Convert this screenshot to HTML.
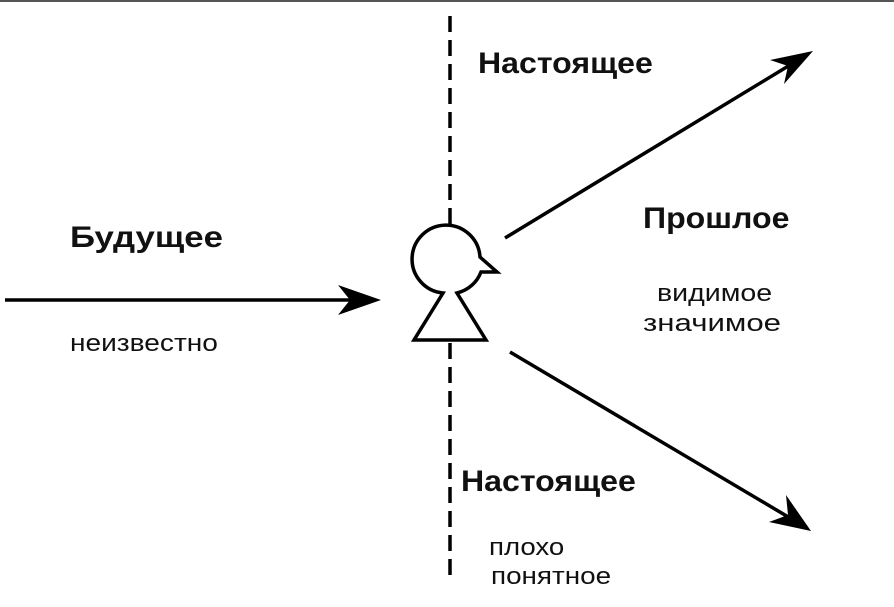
<!DOCTYPE html>
<html><head><meta charset="utf-8"><style>
body{margin:0;background:#fff;width:894px;height:607px;overflow:hidden;position:relative;font-family:"Liberation Sans",sans-serif}
.t{position:absolute;white-space:nowrap;color:#111;transform-origin:0 0}
.b{font-weight:bold;font-size:30px}
.n{font-size:24px}
</style></head><body>
<div style="position:absolute;left:0;top:0;width:894px;height:2px;background:#555"></div>
<svg width="894" height="607" style="position:absolute;left:0;top:0">
<line x1="450" y1="16" x2="450" y2="228" stroke="#000" stroke-width="3.5" stroke-dasharray="16,8"/>
<line x1="450" y1="343" x2="450" y2="580" stroke="#000" stroke-width="3.5" stroke-dasharray="16,8"/>
<g fill="#000">
<line x1="5" y1="300" x2="350" y2="300" stroke="#000" stroke-width="3.5"/>
<path d="M381,300 L338,285 L350,300 L338,315 z"/>
<line x1="505" y1="238" x2="790" y2="65" stroke="#000" stroke-width="3.5"/>
<path d="M813,51 L770,60 L788,66 L784,84 z"/>
<line x1="510" y1="352" x2="790" y2="518" stroke="#000" stroke-width="3.5"/>
<path d="M811,531 L786,495 L788,515 L769,522 z"/>
</g>
<path d="M443,293 A34,34 0 1 1 480,257 L497,272 L481,272 A34,34 0 0 1 457,293 L486,340 L414,340 Z" fill="none" stroke="#000" stroke-width="3.5" stroke-linejoin="miter"/>
</svg>
<div class="t b" style="left:478px;top:47px;transform:scaleX(1.07)">Настоящее</div>
<div class="t b" style="left:70px;top:221px;transform:scaleX(1.16)">Будущее</div>
<div class="t n" style="left:70px;top:330px;transform:scaleX(1.17)">неизвестно</div>
<div class="t b" style="left:643px;top:202px;transform:scaleX(1.07)">Прошлое</div>
<div class="t n" style="left:657px;top:280px;transform:scaleX(1.19)">видимое</div>
<div class="t n" style="left:643px;top:310px;transform:scaleX(1.3)">значимое</div>
<div class="t b" style="left:461px;top:465px;transform:scaleX(1.07)">Настоящее</div>
<div class="t n" style="left:489px;top:534px;transform:scaleX(1.15)">плохо</div>
<div class="t n" style="left:491px;top:563px;transform:scaleX(1.16)">понятное</div>
</body></html>
